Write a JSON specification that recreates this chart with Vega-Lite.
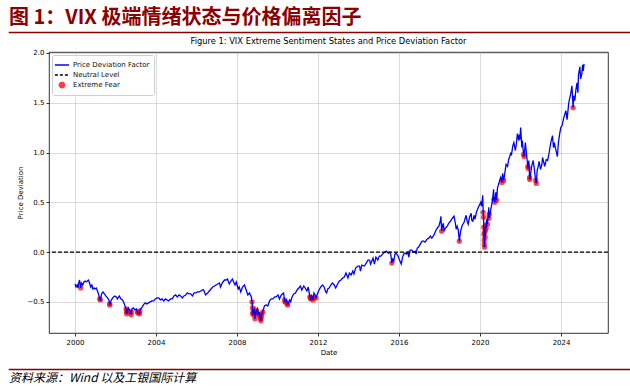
{
  "$schema": "https://vega.github.io/schema/vega-lite/v6.json",
  "padding": {"left": 8, "top": 7, "right": 0, "bottom": 3},
  "background": "white",
  "config": {"view": {"stroke": null}, "font": "DejaVu Sans"},
  "datasets": {
    "pdf": [
      {"date": "2000-01-03", "value": -0.32}, {"date": "2000-01-20", "value": -0.35}, {"date": "2000-02-10", "value": -0.33}, {"date": "2000-02-25", "value": -0.36},
      {"date": "2000-03-10", "value": -0.31}, {"date": "2000-03-24", "value": -0.28}, {"date": "2000-04-14", "value": -0.36, "fear": true}, {"date": "2000-04-28", "value": -0.31},
      {"date": "2000-05-20", "value": -0.33}, {"date": "2000-06-10", "value": -0.30}, {"date": "2000-07-01", "value": -0.29}, {"date": "2000-07-20", "value": -0.30},
      {"date": "2000-08-10", "value": -0.29}, {"date": "2000-09-01", "value": -0.28}, {"date": "2000-09-20", "value": -0.31}, {"date": "2000-10-12", "value": -0.35},
      {"date": "2000-11-01", "value": -0.33}, {"date": "2000-11-20", "value": -0.37}, {"date": "2000-12-10", "value": -0.36}, {"date": "2000-12-28", "value": -0.37},
      {"date": "2001-01-20", "value": -0.36}, {"date": "2001-02-10", "value": -0.39}, {"date": "2001-03-01", "value": -0.42}, {"date": "2001-03-22", "value": -0.47, "fear": true},
      {"date": "2001-04-05", "value": -0.48, "fear": true}, {"date": "2001-04-25", "value": -0.42}, {"date": "2001-05-20", "value": -0.40}, {"date": "2001-06-15", "value": -0.42},
      {"date": "2001-07-10", "value": -0.44}, {"date": "2001-08-10", "value": -0.46}, {"date": "2001-09-05", "value": -0.48}, {"date": "2001-09-17", "value": -0.52, "fear": true},
      {"date": "2001-09-21", "value": -0.53, "fear": true}, {"date": "2001-10-10", "value": -0.49}, {"date": "2001-11-01", "value": -0.47}, {"date": "2001-11-25", "value": -0.45},
      {"date": "2001-12-20", "value": -0.44}, {"date": "2002-01-15", "value": -0.45}, {"date": "2002-02-05", "value": -0.47}, {"date": "2002-03-10", "value": -0.44},
      {"date": "2002-04-10", "value": -0.47}, {"date": "2002-05-10", "value": -0.48}, {"date": "2002-06-10", "value": -0.52}, {"date": "2002-06-28", "value": -0.55},
      {"date": "2002-07-10", "value": -0.57, "fear": true}, {"date": "2002-07-19", "value": -0.60, "fear": true}, {"date": "2002-07-23", "value": -0.62, "fear": true}, {"date": "2002-08-05", "value": -0.59, "fear": true},
      {"date": "2002-08-20", "value": -0.56}, {"date": "2002-09-10", "value": -0.58}, {"date": "2002-09-24", "value": -0.60, "fear": true}, {"date": "2002-10-09", "value": -0.63, "fear": true},
      {"date": "2002-10-15", "value": -0.60, "fear": true}, {"date": "2002-10-25", "value": -0.57}, {"date": "2002-11-20", "value": -0.56}, {"date": "2002-12-15", "value": -0.58},
      {"date": "2003-01-15", "value": -0.57}, {"date": "2003-01-30", "value": -0.60, "fear": true}, {"date": "2003-02-10", "value": -0.61, "fear": true}, {"date": "2003-03-11", "value": -0.62, "fear": true},
      {"date": "2003-03-17", "value": -0.59, "fear": true}, {"date": "2003-03-25", "value": -0.57}, {"date": "2003-04-20", "value": -0.56}, {"date": "2003-05-20", "value": -0.53},
      {"date": "2003-06-20", "value": -0.51}, {"date": "2003-07-20", "value": -0.52}, {"date": "2003-08-20", "value": -0.51}, {"date": "2003-09-20", "value": -0.50},
      {"date": "2003-10-20", "value": -0.49}, {"date": "2003-11-20", "value": -0.49}, {"date": "2003-12-20", "value": -0.47}, {"date": "2004-01-20", "value": -0.46},
      {"date": "2004-02-20", "value": -0.46}, {"date": "2004-03-20", "value": -0.48}, {"date": "2004-04-20", "value": -0.47}, {"date": "2004-05-20", "value": -0.49},
      {"date": "2004-06-20", "value": -0.47}, {"date": "2004-07-20", "value": -0.48}, {"date": "2004-08-15", "value": -0.49}, {"date": "2004-09-20", "value": -0.47},
      {"date": "2004-10-20", "value": -0.47}, {"date": "2004-11-20", "value": -0.44}, {"date": "2004-12-20", "value": -0.43}, {"date": "2005-01-20", "value": -0.45},
      {"date": "2005-02-20", "value": -0.43}, {"date": "2005-03-20", "value": -0.44}, {"date": "2005-04-20", "value": -0.46}, {"date": "2005-05-20", "value": -0.44},
      {"date": "2005-06-20", "value": -0.43}, {"date": "2005-07-20", "value": -0.41}, {"date": "2005-08-20", "value": -0.42}, {"date": "2005-09-20", "value": -0.42},
      {"date": "2005-10-20", "value": -0.44}, {"date": "2005-11-20", "value": -0.41}, {"date": "2005-12-20", "value": -0.41}, {"date": "2006-01-20", "value": -0.40},
      {"date": "2006-02-20", "value": -0.40}, {"date": "2006-03-20", "value": -0.39}, {"date": "2006-04-20", "value": -0.38}, {"date": "2006-05-10", "value": -0.38},
      {"date": "2006-06-13", "value": -0.43}, {"date": "2006-07-20", "value": -0.41}, {"date": "2006-08-20", "value": -0.39}, {"date": "2006-09-20", "value": -0.37},
      {"date": "2006-10-20", "value": -0.35}, {"date": "2006-11-20", "value": -0.34}, {"date": "2006-12-20", "value": -0.33}, {"date": "2007-01-20", "value": -0.32},
      {"date": "2007-02-20", "value": -0.31}, {"date": "2007-03-10", "value": -0.35}, {"date": "2007-04-10", "value": -0.31}, {"date": "2007-05-20", "value": -0.28},
      {"date": "2007-06-20", "value": -0.28}, {"date": "2007-07-15", "value": -0.27}, {"date": "2007-08-15", "value": -0.32}, {"date": "2007-09-15", "value": -0.29},
      {"date": "2007-10-10", "value": -0.27}, {"date": "2007-11-10", "value": -0.31}, {"date": "2007-11-26", "value": -0.33}, {"date": "2007-12-20", "value": -0.30},
      {"date": "2008-01-22", "value": -0.37}, {"date": "2008-02-10", "value": -0.35}, {"date": "2008-03-10", "value": -0.40}, {"date": "2008-04-10", "value": -0.35},
      {"date": "2008-05-15", "value": -0.33}, {"date": "2008-06-15", "value": -0.38}, {"date": "2008-07-15", "value": -0.43}, {"date": "2008-08-15", "value": -0.41},
      {"date": "2008-09-15", "value": -0.45}, {"date": "2008-09-29", "value": -0.50, "fear": true}, {"date": "2008-10-06", "value": -0.56, "fear": true}, {"date": "2008-10-10", "value": -0.62, "fear": true},
      {"date": "2008-10-16", "value": -0.60, "fear": true}, {"date": "2008-10-22", "value": -0.61, "fear": true}, {"date": "2008-10-27", "value": -0.63, "fear": true}, {"date": "2008-11-05", "value": -0.57, "fear": true},
      {"date": "2008-11-12", "value": -0.62, "fear": true}, {"date": "2008-11-20", "value": -0.67, "fear": true}, {"date": "2008-11-26", "value": -0.61, "fear": true}, {"date": "2008-12-05", "value": -0.62, "fear": true},
      {"date": "2008-12-12", "value": -0.60, "fear": true}, {"date": "2008-12-20", "value": -0.59, "fear": true}, {"date": "2009-01-06", "value": -0.57}, {"date": "2009-01-20", "value": -0.63, "fear": true},
      {"date": "2009-02-05", "value": -0.60}, {"date": "2009-02-17", "value": -0.64, "fear": true}, {"date": "2009-02-25", "value": -0.66, "fear": true}, {"date": "2009-03-02", "value": -0.67, "fear": true},
      {"date": "2009-03-09", "value": -0.69, "fear": true}, {"date": "2009-03-16", "value": -0.65, "fear": true}, {"date": "2009-03-25", "value": -0.62, "fear": true}, {"date": "2009-04-10", "value": -0.60, "fear": true},
      {"date": "2009-04-25", "value": -0.57}, {"date": "2009-05-10", "value": -0.54}, {"date": "2009-06-10", "value": -0.53}, {"date": "2009-07-10", "value": -0.54},
      {"date": "2009-08-10", "value": -0.49}, {"date": "2009-09-10", "value": -0.47}, {"date": "2009-10-10", "value": -0.47}, {"date": "2009-11-10", "value": -0.45},
      {"date": "2009-12-10", "value": -0.45}, {"date": "2010-01-10", "value": -0.43}, {"date": "2010-02-05", "value": -0.47}, {"date": "2010-03-10", "value": -0.43},
      {"date": "2010-04-20", "value": -0.41}, {"date": "2010-05-07", "value": -0.48, "fear": true}, {"date": "2010-05-20", "value": -0.50, "fear": true}, {"date": "2010-05-25", "value": -0.50, "fear": true},
      {"date": "2010-06-10", "value": -0.48}, {"date": "2010-06-30", "value": -0.52, "fear": true}, {"date": "2010-07-02", "value": -0.53, "fear": true}, {"date": "2010-07-20", "value": -0.50},
      {"date": "2010-08-10", "value": -0.48}, {"date": "2010-08-27", "value": -0.50}, {"date": "2010-09-20", "value": -0.45}, {"date": "2010-10-20", "value": -0.42},
      {"date": "2010-11-20", "value": -0.41}, {"date": "2010-12-20", "value": -0.38}, {"date": "2011-01-20", "value": -0.36}, {"date": "2011-02-18", "value": -0.34},
      {"date": "2011-03-15", "value": -0.38}, {"date": "2011-04-20", "value": -0.34}, {"date": "2011-05-15", "value": -0.36}, {"date": "2011-06-15", "value": -0.39},
      {"date": "2011-07-10", "value": -0.35}, {"date": "2011-08-08", "value": -0.45, "fear": true}, {"date": "2011-08-18", "value": -0.46, "fear": true}, {"date": "2011-08-25", "value": -0.47, "fear": true},
      {"date": "2011-09-10", "value": -0.44}, {"date": "2011-09-22", "value": -0.46, "fear": true}, {"date": "2011-10-03", "value": -0.48, "fear": true}, {"date": "2011-10-20", "value": -0.41},
      {"date": "2011-11-10", "value": -0.43}, {"date": "2011-11-25", "value": -0.46, "fear": true}, {"date": "2011-12-20", "value": -0.42}, {"date": "2012-01-20", "value": -0.38},
      {"date": "2012-02-20", "value": -0.35}, {"date": "2012-03-25", "value": -0.33}, {"date": "2012-04-20", "value": -0.35}, {"date": "2012-05-20", "value": -0.40},
      {"date": "2012-06-05", "value": -0.41}, {"date": "2012-06-25", "value": -0.37}, {"date": "2012-07-20", "value": -0.36}, {"date": "2012-08-20", "value": -0.33},
      {"date": "2012-09-15", "value": -0.31}, {"date": "2012-10-20", "value": -0.33}, {"date": "2012-11-15", "value": -0.36}, {"date": "2012-12-20", "value": -0.32},
      {"date": "2013-01-20", "value": -0.29}, {"date": "2013-02-20", "value": -0.28}, {"date": "2013-03-20", "value": -0.26}, {"date": "2013-04-20", "value": -0.25},
      {"date": "2013-05-20", "value": -0.21}, {"date": "2013-06-24", "value": -0.26}, {"date": "2013-07-20", "value": -0.21}, {"date": "2013-08-20", "value": -0.23},
      {"date": "2013-09-20", "value": -0.19}, {"date": "2013-10-10", "value": -0.22}, {"date": "2013-11-10", "value": -0.16}, {"date": "2013-12-20", "value": -0.14},
      {"date": "2014-01-20", "value": -0.14}, {"date": "2014-02-05", "value": -0.19}, {"date": "2014-03-01", "value": -0.13}, {"date": "2014-04-15", "value": -0.14},
      {"date": "2014-05-20", "value": -0.11}, {"date": "2014-06-20", "value": -0.08}, {"date": "2014-07-20", "value": -0.08}, {"date": "2014-08-07", "value": -0.12},
      {"date": "2014-09-20", "value": -0.06}, {"date": "2014-10-15", "value": -0.12}, {"date": "2014-11-10", "value": -0.05}, {"date": "2014-12-15", "value": -0.08},
      {"date": "2015-01-10", "value": -0.04}, {"date": "2015-02-10", "value": -0.04}, {"date": "2015-03-10", "value": -0.02}, {"date": "2015-04-20", "value": 0.00},
      {"date": "2015-05-20", "value": 0.01}, {"date": "2015-06-20", "value": -0.01}, {"date": "2015-07-20", "value": 0.00}, {"date": "2015-08-05", "value": -0.02},
      {"date": "2015-08-25", "value": -0.11, "fear": true}, {"date": "2015-09-10", "value": -0.07}, {"date": "2015-09-29", "value": -0.09}, {"date": "2015-10-20", "value": -0.02},
      {"date": "2015-11-10", "value": -0.01}, {"date": "2015-12-15", "value": -0.04}, {"date": "2016-01-10", "value": -0.08}, {"date": "2016-02-11", "value": -0.12},
      {"date": "2016-03-01", "value": -0.06}, {"date": "2016-03-25", "value": -0.02}, {"date": "2016-04-20", "value": -0.01}, {"date": "2016-05-20", "value": -0.02},
      {"date": "2016-06-10", "value": 0.00}, {"date": "2016-06-27", "value": -0.05}, {"date": "2016-07-20", "value": 0.02}, {"date": "2016-08-20", "value": 0.02},
      {"date": "2016-09-15", "value": 0.00}, {"date": "2016-10-20", "value": 0.01}, {"date": "2016-11-04", "value": -0.02}, {"date": "2016-11-25", "value": 0.04},
      {"date": "2016-12-20", "value": 0.05}, {"date": "2017-01-20", "value": 0.08}, {"date": "2017-02-20", "value": 0.11}, {"date": "2017-03-20", "value": 0.11},
      {"date": "2017-04-15", "value": 0.10}, {"date": "2017-05-20", "value": 0.13}, {"date": "2017-06-20", "value": 0.14}, {"date": "2017-07-20", "value": 0.16},
      {"date": "2017-08-15", "value": 0.14}, {"date": "2017-09-20", "value": 0.17}, {"date": "2017-10-20", "value": 0.21}, {"date": "2017-11-20", "value": 0.24},
      {"date": "2017-12-20", "value": 0.26}, {"date": "2018-01-10", "value": 0.30}, {"date": "2018-01-26", "value": 0.36}, {"date": "2018-02-08", "value": 0.21, "fear": true},
      {"date": "2018-02-25", "value": 0.27}, {"date": "2018-03-10", "value": 0.29}, {"date": "2018-03-23", "value": 0.21}, {"date": "2018-04-15", "value": 0.24},
      {"date": "2018-05-20", "value": 0.26}, {"date": "2018-06-15", "value": 0.29}, {"date": "2018-07-15", "value": 0.31}, {"date": "2018-08-20", "value": 0.34},
      {"date": "2018-09-20", "value": 0.36}, {"date": "2018-10-10", "value": 0.30}, {"date": "2018-10-29", "value": 0.23}, {"date": "2018-11-15", "value": 0.26},
      {"date": "2018-12-05", "value": 0.22}, {"date": "2018-12-24", "value": 0.11, "fear": true}, {"date": "2019-01-15", "value": 0.21}, {"date": "2019-02-15", "value": 0.27},
      {"date": "2019-03-20", "value": 0.30}, {"date": "2019-04-25", "value": 0.37}, {"date": "2019-05-15", "value": 0.31}, {"date": "2019-06-03", "value": 0.28},
      {"date": "2019-06-25", "value": 0.35}, {"date": "2019-07-25", "value": 0.39}, {"date": "2019-08-05", "value": 0.32}, {"date": "2019-08-25", "value": 0.31},
      {"date": "2019-09-15", "value": 0.37}, {"date": "2019-10-03", "value": 0.33}, {"date": "2019-10-28", "value": 0.40}, {"date": "2019-11-25", "value": 0.44},
      {"date": "2019-12-20", "value": 0.47}, {"date": "2020-01-15", "value": 0.50}, {"date": "2020-01-31", "value": 0.46}, {"date": "2020-02-19", "value": 0.57},
      {"date": "2020-02-27", "value": 0.40, "fear": true}, {"date": "2020-03-05", "value": 0.35, "fear": true}, {"date": "2020-03-09", "value": 0.25, "fear": true}, {"date": "2020-03-12", "value": 0.18, "fear": true},
      {"date": "2020-03-16", "value": 0.12, "fear": true}, {"date": "2020-03-18", "value": 0.08, "fear": true}, {"date": "2020-03-23", "value": 0.05, "fear": true}, {"date": "2020-03-26", "value": 0.20, "fear": true},
      {"date": "2020-04-01", "value": 0.15, "fear": true}, {"date": "2020-04-06", "value": 0.22, "fear": true}, {"date": "2020-04-10", "value": 0.27, "fear": true}, {"date": "2020-04-20", "value": 0.24, "fear": true},
      {"date": "2020-04-29", "value": 0.33}, {"date": "2020-05-13", "value": 0.28, "fear": true}, {"date": "2020-05-29", "value": 0.38}, {"date": "2020-06-08", "value": 0.45},
      {"date": "2020-06-11", "value": 0.34, "fear": true}, {"date": "2020-06-15", "value": 0.38, "fear": true}, {"date": "2020-06-25", "value": 0.37}, {"date": "2020-07-10", "value": 0.42},
      {"date": "2020-07-28", "value": 0.47}, {"date": "2020-08-15", "value": 0.53}, {"date": "2020-09-02", "value": 0.63}, {"date": "2020-09-08", "value": 0.53, "fear": true},
      {"date": "2020-09-23", "value": 0.50, "fear": true}, {"date": "2020-10-12", "value": 0.60}, {"date": "2020-10-28", "value": 0.52, "fear": true}, {"date": "2020-11-10", "value": 0.64},
      {"date": "2020-11-30", "value": 0.68}, {"date": "2020-12-20", "value": 0.72}, {"date": "2021-01-08", "value": 0.75}, {"date": "2021-01-28", "value": 0.70, "fear": true},
      {"date": "2021-02-12", "value": 0.79}, {"date": "2021-03-04", "value": 0.72, "fear": true}, {"date": "2021-03-25", "value": 0.80}, {"date": "2021-04-15", "value": 0.88},
      {"date": "2021-05-12", "value": 0.86}, {"date": "2021-06-01", "value": 0.93}, {"date": "2021-06-20", "value": 0.96}, {"date": "2021-07-10", "value": 1.00},
      {"date": "2021-07-19", "value": 0.97}, {"date": "2021-08-15", "value": 1.07}, {"date": "2021-09-02", "value": 1.10}, {"date": "2021-09-30", "value": 1.02},
      {"date": "2021-10-20", "value": 1.10}, {"date": "2021-11-05", "value": 1.19}, {"date": "2021-11-30", "value": 1.12}, {"date": "2021-12-10", "value": 1.18},
      {"date": "2021-12-20", "value": 1.13}, {"date": "2022-01-03", "value": 1.25}, {"date": "2022-01-24", "value": 1.05}, {"date": "2022-02-02", "value": 1.12},
      {"date": "2022-02-24", "value": 0.98, "fear": true}, {"date": "2022-03-07", "value": 0.96, "fear": true}, {"date": "2022-03-29", "value": 1.10}, {"date": "2022-04-15", "value": 1.00},
      {"date": "2022-05-12", "value": 0.86, "fear": true}, {"date": "2022-05-18", "value": 0.84, "fear": true}, {"date": "2022-05-30", "value": 0.92}, {"date": "2022-06-13", "value": 0.75, "fear": true},
      {"date": "2022-06-16", "value": 0.73, "fear": true}, {"date": "2022-07-05", "value": 0.80}, {"date": "2022-07-20", "value": 0.86}, {"date": "2022-08-16", "value": 0.92},
      {"date": "2022-09-05", "value": 0.84}, {"date": "2022-09-30", "value": 0.72, "fear": true}, {"date": "2022-10-12", "value": 0.69, "fear": true}, {"date": "2022-10-28", "value": 0.82},
      {"date": "2022-11-15", "value": 0.86}, {"date": "2022-12-01", "value": 0.91}, {"date": "2022-12-28", "value": 0.83}, {"date": "2023-01-20", "value": 0.88},
      {"date": "2023-02-02", "value": 0.95}, {"date": "2023-03-13", "value": 0.86}, {"date": "2023-04-10", "value": 0.93}, {"date": "2023-05-05", "value": 0.92},
      {"date": "2023-06-01", "value": 1.00}, {"date": "2023-06-30", "value": 1.10}, {"date": "2023-07-31", "value": 1.17}, {"date": "2023-08-18", "value": 1.05},
      {"date": "2023-09-01", "value": 1.10}, {"date": "2023-09-25", "value": 1.04}, {"date": "2023-10-27", "value": 0.96}, {"date": "2023-11-15", "value": 1.10},
      {"date": "2023-12-05", "value": 1.18}, {"date": "2023-12-28", "value": 1.25}, {"date": "2024-01-20", "value": 1.27}, {"date": "2024-02-15", "value": 1.34},
      {"date": "2024-03-28", "value": 1.42}, {"date": "2024-04-19", "value": 1.33}, {"date": "2024-05-20", "value": 1.50}, {"date": "2024-06-20", "value": 1.58},
      {"date": "2024-07-16", "value": 1.67}, {"date": "2024-08-05", "value": 1.45, "fear": true}, {"date": "2024-08-20", "value": 1.57}, {"date": "2024-09-06", "value": 1.52},
      {"date": "2024-09-25", "value": 1.63}, {"date": "2024-10-15", "value": 1.70}, {"date": "2024-10-31", "value": 1.60}, {"date": "2024-11-11", "value": 1.78},
      {"date": "2024-12-06", "value": 1.86}, {"date": "2024-12-19", "value": 1.74}, {"date": "2025-01-10", "value": 1.79}, {"date": "2025-01-23", "value": 1.88},
      {"date": "2025-02-05", "value": 1.82}, {"date": "2025-02-19", "value": 1.89}
    ]
  },
  "resolve": {"scale": {"color": "independent"}, "legend": {"color": "independent"}},
  "vconcat": [
    {
      "spacing": 3,
      "resolve": {"scale": {"color": "independent"}, "legend": {"color": "independent"}},
      "vconcat": [
        {
          "width": 622,
          "height": 0.4,
          "title": {"text": "图 1：VIX 极端情绪状态与价格偏离因子", "anchor": "start", "frame": "group", "font": "Noto Sans CJK SC", "fontSize": 20, "fontWeight": "bold", "color": "#8B0000", "offset": 4},
          "view": {"stroke": "#8B0000", "strokeWidth": 1.2},
          "data": {"values": []},
          "mark": {"type": "rule"},
          "encoding": {}
        },
        {
          "spacing": 5,
          "resolve": {"scale": {"color": "independent"}, "legend": {"color": "independent"}},
          "hconcat": [
            {
              "width": 1,
              "height": 281,
              "view": {"stroke": null},
              "data": {"values": []},
              "mark": {"type": "rule"},
              "encoding": {}
            },
            {
              "width": 559,
              "height": 281,
              "title": {"text": "Figure 1: VIX Extreme Sentiment States and Price Deviation Factor", "font": "DejaVu Sans", "fontSize": 8.3, "fontWeight": "normal", "color": "black", "anchor": "middle", "offset": 4},
              "view": {"stroke": "black", "strokeWidth": 0.8},
              "data": {"name": "pdf"},
              "layer": [
                {
                  "transform": [{"filter": "datum.fear === true"}],
                  "mark": {"type": "circle", "size": 28, "opacity": 0.72},
                  "encoding": {
                    "x": {"field": "date", "type": "temporal"},
                    "y": {"field": "value", "type": "quantitative"},
                    "color": {"datum": "Extreme Fear"}
                  }
                },
                {
                  "mark": {"type": "line", "strokeWidth": 1.3},
                  "encoding": {
                    "x": {
                      "field": "date", "type": "temporal", "title": "Date",
                      "scale": {"domain": [{"year": 1998, "month": 9, "date": 20}, {"year": 2026, "month": 4, "date": 27}]},
                      "axis": {
                        "values": [{"year": 2000}, {"year": 2004}, {"year": 2008}, {"year": 2012}, {"year": 2016}, {"year": 2020}, {"year": 2024}],
                        "format": "%Y", "labelFontSize": 7, "labelColor": "black", "labelFlush": false, "labelPadding": 2,
                        "domain": false, "tickColor": "black", "tickSize": 3, "tickWidth": 0.8,
                        "grid": true, "gridColor": "#b0b0b0", "gridOpacity": 0.6, "gridWidth": 0.8,
                        "titleFontSize": 7, "titleFontWeight": "normal", "titleColor": "black", "titlePadding": 3
                      }
                    },
                    "y": {
                      "field": "value", "type": "quantitative", "title": "Price Deviation",
                      "scale": {"domain": [-0.812, 2.009], "nice": false, "zero": false},
                      "axis": {
                        "values": [-0.5, 0, 0.5, 1, 1.5, 2], "format": ".1f",
                        "labelFontSize": 7, "labelColor": "black", "labelPadding": 2,
                        "domain": false, "tickColor": "black", "tickSize": 3, "tickWidth": 0.8,
                        "grid": true, "gridColor": "#b0b0b0", "gridOpacity": 0.6, "gridWidth": 0.8,
                        "titleFontSize": 7, "titleFontWeight": "normal", "titleColor": "black", "titlePadding": 4
                      }
                    },
                    "color": {
                      "datum": "Price Deviation Factor",
                      "scale": {"domain": ["Price Deviation Factor", "Neutral Level", "Extreme Fear"], "range": ["#0000ff", "#000000", "#ff0000"]},
                      "legend": {
                        "title": null, "orient": "top-left", "offset": 3, "padding": 4, "rowPadding": 1,
                        "labelFont": "DejaVu Sans", "labelFontSize": 7, "labelColor": "#111111", "labelOffset": 5,
                        "symbolType": "stroke", "symbolSize": 110, "symbolStrokeWidth": 1.3,
                        "strokeColor": "#cfcfcf", "fillColor": "#ffffff", "cornerRadius": 2,
                        "encode": {
                          "symbols": {
                            "update": {
                              "shape": {"signal": "datum.value === 'Extreme Fear' ? 'circle' : 'M-1.35,0H1.35'"},
                              "size": {"signal": "datum.value === 'Extreme Fear' ? 30 : 110"},
                              "fill": {"signal": "datum.value === 'Extreme Fear' ? '#ff0000' : 'transparent'"},
                              "stroke": {"signal": "datum.value === 'Extreme Fear' ? 'transparent' : (datum.value === 'Neutral Level' ? '#000000' : '#0000ff')"},
                              "strokeDash": {"signal": "datum.value === 'Neutral Level' ? [3, 2] : [1, 0]"},
                              "strokeWidth": {"value": 1.3},
                              "opacity": {"signal": "datum.value === 'Extreme Fear' ? 0.75 : 1"}
                            }
                          }
                        }
                      }
                    }
                  }
                },
                {
                  "data": {"values": [{"level": 0}]},
                  "mark": {"type": "rule", "strokeDash": [4, 2], "strokeWidth": 1.1},
                  "encoding": {
                    "y": {"field": "level", "type": "quantitative"},
                    "color": {"datum": "Neutral Level"}
                  }
                }
              ]
            }
          ]
        }
      ]
    },
    {
      "width": 622,
      "height": 0.4,
      "title": {"text": "资料来源：Wind 以及工银国际计算", "orient": "bottom", "anchor": "start", "frame": "group", "font": "Noto Sans CJK SC", "fontSize": 12, "fontStyle": "italic", "fontWeight": "normal", "color": "black", "offset": 4},
      "view": {"stroke": "#8B0000", "strokeWidth": 1.2},
      "data": {"values": []},
      "mark": {"type": "rule"},
      "encoding": {}
    }
  ],
  "spacing": 12
}
